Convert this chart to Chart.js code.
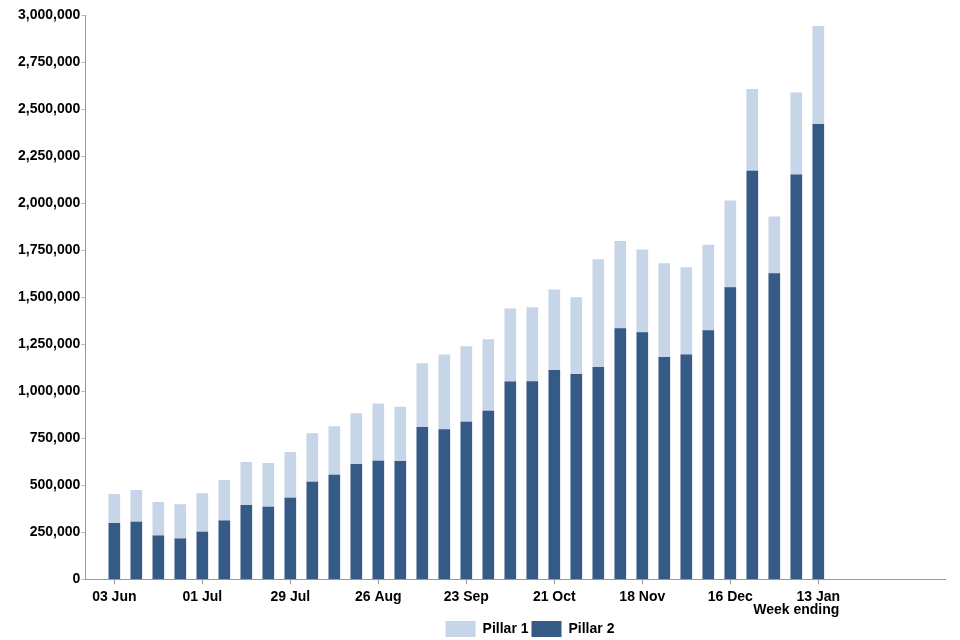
<!DOCTYPE html>
<html>
<head>
<meta charset="utf-8">
<script src="https://cdn.jsdelivr.net/npm/chart.js@4/dist/chart.umd.min.js"></script>
<style>
  html, body { margin: 0; padding: 0; background: #fff; }
  #wrap { width: 960px; height: 640px; position: relative; }
</style>
</head>
<body>
<div id="wrap"><canvas id="myBarChart"></canvas></div>
<script>
// week ending dates
var weeks = ['03 Jun', '10 Jun', '17 Jun', '24 Jun', '01 Jul', '08 Jul', '15 Jul', '22 Jul',
    '29 Jul', '05 Aug', '12 Aug', '19 Aug', '26 Aug', '02 Sep', '09 Sep', '16 Sep',
    '23 Sep', '30 Sep', '07 Oct', '14 Oct', '21 Oct', '28 Oct', '04 Nov', '11 Nov',
    '18 Nov', '25 Nov', '02 Dec', '09 Dec', '16 Dec', '23 Dec', '30 Dec', '06 Jan', '13 Jan'];

// tests processed per week
var pillar1 = [154000, 169000, 179000, 183000, 204000, 216000, 228000, 232000,
    242000, 257000, 258000, 269000, 305000, 288000, 340000, 397000,
    402000, 380000, 387000, 393000, 429000, 407000, 572000, 463000,
    441000, 498000, 464000, 455000, 462000, 435000, 302000, 436000, 522000];

var pillar2 = [297000, 304000, 230000, 214000, 251000, 310000, 393000, 384000,
    432000, 517000, 554000, 611000, 628000, 627000, 807000, 796000,
    835000, 894000, 1050000, 1051000, 1110000, 1090000, 1127000, 1333000,
    1311000, 1180000, 1193000, 1322000, 1550000, 2170000, 1625000, 2150000, 2418000];

var labelTicks = [0, 4, 8, 12, 16, 20, 24, 28, 32];
var yTicks = [0, 250000, 500000, 750000, 1000000, 1250000, 1500000, 1750000,
    2000000, 2250000, 2500000, 2750000, 3000000];

var fontBold = { family: '"Liberation Sans", Arial, sans-serif', size: 14, weight: 'bold' };

var data = [{
    label: 'Pillar 2',
    data: pillar2.map(function (v, i) { return { x: i, y: v }; }),
    backgroundColor: '#365a86',
    borderWidth: 0,
    barThickness: 11
}, {
    label: 'Pillar 1',
    data: pillar1.map(function (v, i) { return { x: i, y: v }; }),
    backgroundColor: '#c6d5e8',
    borderWidth: 0,
    barThickness: 11
}];

// x axis title sits under the last weeks, legend a bit right of centre
var extras = {
    id: 'extras',
    afterLayout: function (chart) {
        var lg = chart.legend;
        lg.left += 49; lg.right += 49;
        lg.top += 7; lg.bottom += 7;
    },
    afterDraw: function (chart) {
        var x = chart.scales.x;
        var c = chart.ctx;
        c.save();
        c.font = 'bold 14px "Liberation Sans", Arial, sans-serif';
        c.fillStyle = '#000';
        c.textAlign = 'center';
        c.textBaseline = 'middle';
        c.fillText('Week ending', x.getPixelForValue(31), x.top + 31);
        c.restore();
    }
};

var options01 = {
    responsive: true,
    maintainAspectRatio: false,
    animation: false,
    layout: { padding: { left: 17, right: 15, top: 15, bottom: 0 } },
    plugins: {
        tooltip: { enabled: false },
        legend: {
            position: 'bottom',
            reverse: true,
            labels: {
                boxWidth: 30,
                boxHeight: 16,
                padding: 3,
                color: '#000',
                font: fontBold
            }
        }
    },
    scales: {
        x: {
            type: 'linear',
            stacked: true,
            min: -1.32,
            max: 37.76,
            offset: false,
            border: { color: '#999' },
            grid: { drawOnChartArea: false, offset: false, tickLength: 5, color: '#999' },
            afterBuildTicks: function (scale) {
                scale.ticks = labelTicks.map(function (v) { return { value: v }; });
            },
            ticks: {
                color: '#000',
                font: fontBold,
                padding: 5,
                maxRotation: 0,
                autoSkip: false,
                callback: function (v) { return weeks[v]; }
            }
        },
        y: {
            stacked: true,
            min: 0,
            max: 3000000,
            border: { color: '#999' },
            grid: { drawOnChartArea: false, tickLength: 4, color: '#bbb' },
            afterBuildTicks: function (scale) {
                scale.ticks = yTicks.map(function (v) { return { value: v }; });
            },
            ticks: {
                color: '#000',
                font: fontBold,
                padding: 1,
                callback: function (v) { return v.toLocaleString('en-GB'); }
            }
        }
    }
};

var ctx = document.getElementById("myBarChart").getContext('2d');
var myChart = new Chart(ctx, {
    type: 'bar',
    data: { datasets: data },
    options: options01,
    plugins: [extras]
});
</script>
</body>
</html>
